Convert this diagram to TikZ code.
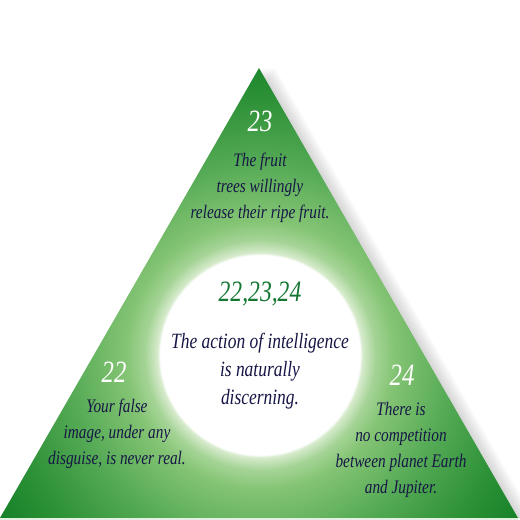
\documentclass[tikz,border=0pt]{standalone}
\usepackage{fontspec}
\setmainfont{Liberation Serif}[FakeStretch=0.8]

\definecolor{ink}{RGB}{22,22,70}
\definecolor{numgreen}{RGB}{20,120,50}
\definecolor{rim}{RGB}{228,240,226}
\definecolor{glowA}{RGB}{215,235,205}
\definecolor{glowB}{RGB}{165,212,150}
\definecolor{glowC}{RGB}{132,196,116}
\definecolor{glowD}{RGB}{85,170,85}
\definecolor{glowE}{RGB}{45,145,55}
\definecolor{glowF}{RGB}{15,125,35}

% white disc fading into the green of the triangle
\pgfdeclareradialshading{glow}{\pgfpoint{0bp}{0bp}}{%
  color(0bp)=(white); color(7.8bp)=(white); color(8bp)=(glowA);
  color(9bp)=(glowB); color(10.5bp)=(glowC); color(15bp)=(glowD);
  color(20bp)=(glowE); color(25bp)=(glowF); color(50bp)=(glowF)}

\tikzset{
  num/.style = {text = white, inner sep = 0, font = \itshape\fontsize{22}{22}\selectfont},
  saying/.style = {text = ink, align = center, inner sep = 0,
    font = \itshape\fontsize{13.6}{18.5}\selectfont}
}

\begin{document}
\begin{tikzpicture}[x = 0.025cm, y = -0.025cm]
  \useasboundingbox (0, 0) rectangle (520, 520);
  \coordinate (top) at (259, 68);
  \coordinate (left) at (0, 518);
  \coordinate (right) at (518, 518);

  % soft shadow to the right
  \foreach \s in {1, ..., 7} {
    \fill [black, opacity = 0.025] ([xshift = \s * 1.6pt] top) -- ([xshift = \s * 1.6pt] right) -- (left) -- cycle;
  }

  \begin{scope}
    \clip (top) -- (right) -- (left) -- cycle;
    \shade [shading = glow] (260, 355) circle [radius = 320];
  \end{scope}
  \draw [rim, line width = 1pt] ([yshift = -0.6pt] left) -- ([yshift = -0.6pt] right);

  \node [num] (n23) at (260, 121) {23};
  \node [saying] (t23) at (260, 188) {The fruit\\ trees willingly\\ release their ripe fruit.};

  \node [num, text = numgreen, font = \itshape\fontsize{21}{21}\selectfont] (all) at (260, 294) {22,23,24};
  \node [saying, font = \itshape\fontsize{15.5}{20}\selectfont] (tall) at (260, 371)
    {The action of intelligence\\ is naturally\\ discerning.};

  \node [num] (n22) at (114, 372) {22};
  \node [saying] (t22) at (117, 434) {Your false\\ image, under any\\ disguise, is never real.};

  \node [num] (n24) at (402, 375) {24};
  \node [saying] (t24) at (401, 450) {There is\\ no competition\\ between planet Earth\\ and Jupiter.};
\end{tikzpicture}
\end{document}
